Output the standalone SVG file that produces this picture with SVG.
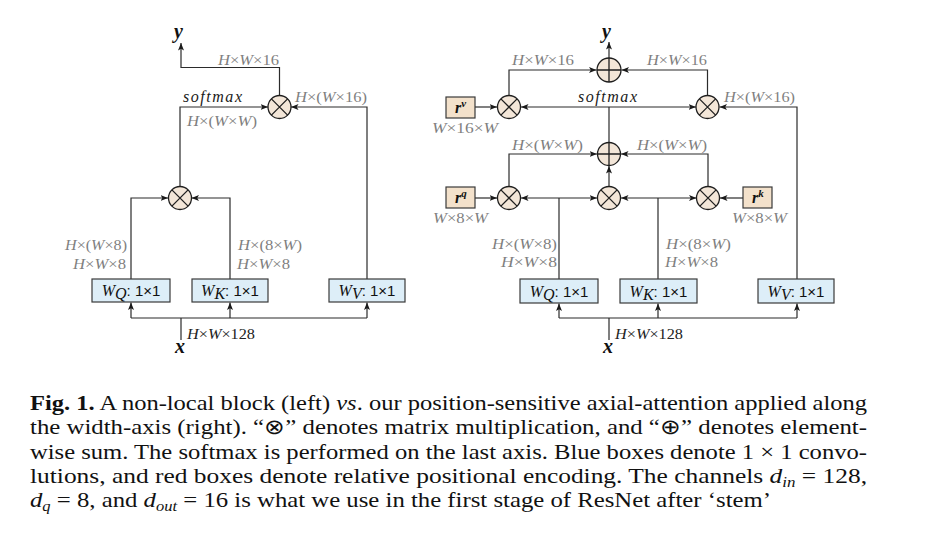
<svg xmlns="http://www.w3.org/2000/svg" width="932" height="545" viewBox="0 0 932 545">
<defs>
<marker id="ah" markerUnits="userSpaceOnUse" markerWidth="8" markerHeight="8" viewBox="0 0 8 8" refX="7.5" refY="4" orient="auto-start-reverse">
<path d="M0,1 L7.5,4 L0,7 L1.8,4 Z" fill="#1a1a1a"/>
</marker>
</defs>
<style>
.bg{fill:#ffffff}
.ln{fill:none;stroke:#2b2b2b;stroke-width:1.2}
.ar{marker-end:url(#ah)}
.ar2{marker-start:url(#ah);marker-end:url(#ah)}
.circ{fill:#f3e6d8;stroke:#1e1e1e;stroke-width:1.3}
.cross{stroke:#1e1e1e;stroke-width:1.3;fill:none}
.box{fill:#ddeef8;stroke:#3a3a3a;stroke-width:1.2}
.rbox{fill:#f3e1cb;stroke:#3a3a3a;stroke-width:1.2}
.g{font-family:'Liberation Serif',serif;font-size:14px;fill:#7f7f7f}
.d{font-family:'Liberation Serif',serif;font-size:14px;fill:#222}
.i{font-style:italic}
.sm{font-family:'Liberation Serif',serif;font-size:16px;font-style:italic;fill:#1a1a1a}
.xy{font-family:'Liberation Serif',serif;font-size:20px;font-style:italic;font-weight:bold;fill:#111}
.bl{font-family:'Liberation Sans',sans-serif;font-size:15px;fill:#111}
.bw{font-family:'Liberation Serif',serif;font-style:italic;font-size:16px}
.rl{font-family:'Liberation Serif',serif;font-style:italic;font-weight:bold;font-size:16px;fill:#111}
.cap{font-family:'Liberation Serif',serif;font-size:21px;fill:#111}
</style>
<rect class="bg" x="0" y="0" width="932" height="545"/>

<!-- connectors -->
<g id="connectors">
<!-- left diagram -->
<path class="ln ar" d="M279.5,95.5 V67.5 H181 V43"/>
<path class="ln ar" d="M180,186.5 V107 H268"/>
<path class="ln ar" d="M367,279 V107 H291"/>
<path class="ln ar" d="M131,279 V198 H168"/>
<path class="ln ar" d="M230,279 V198 H191.5"/>
<path class="ln" d="M181,340 V318 M131,318 H367"/>
<path class="ln ar" d="M131,318 V302.5"/>
<path class="ln ar" d="M230,318 V302.5"/>
<path class="ln ar" d="M367,318 V302.5"/>
<!-- right diagram -->
<path class="ln ar" d="M609,58 V42"/>
<path class="ln ar" d="M509,95.5 V70 H596.5"/>
<path class="ln ar" d="M707.5,95.5 V70 H621.5"/>
<path class="ln ar" d="M475,107 H497"/>
<path class="ln" d="M609,142.5 V107"/>
<path class="ln ar2" d="M521,107 H696"/>
<path class="ln ar" d="M797,279 V107 H719.5"/>
<path class="ln ar" d="M509,186.5 V154 H597"/>
<path class="ln ar" d="M708,186.5 V154 H621"/>
<path class="ln ar" d="M609,186.5 V166"/>
<path class="ln ar" d="M475,198 H497"/>
<path class="ln ar" d="M743,198 H720"/>
<path class="ln ar2" d="M521,198 H597"/>
<path class="ln" d="M559,198 V279"/>
<path class="ln ar2" d="M621,198 H696.5"/>
<path class="ln" d="M658,198 V279"/>
<path class="ln" d="M609,340 V318 M559,318 H797"/>
<path class="ln ar" d="M559,318 V303.5"/>
<path class="ln ar" d="M658,318 V303.5"/>
<path class="ln ar" d="M797,318 V303.5"/>
</g>

<!-- ===== LEFT: non-local block ===== -->
<g id="L_mul_top">
<circle class="circ" cx="279.5" cy="107" r="11.5"/>
<path class="cross" d="M271.4,98.9 L287.6,115.1 M287.6,98.9 L271.4,115.1"/>
</g>
<g id="L_mul_bot">
<circle class="circ" cx="180" cy="198" r="11.5"/>
<path class="cross" d="M171.9,189.9 L188.1,206.1 M188.1,189.9 L171.9,206.1"/>
</g>
<g id="L_WQ">
<rect class="box" x="92" y="279" width="78" height="23"/>
<text class="bl" x="131" y="296" text-anchor="middle"><tspan class="bw">W</tspan><tspan class="bw" font-size="11" dy="3">Q</tspan><tspan dy="-3">: 1×1</tspan></text>
</g>
<g id="L_WK">
<rect class="box" x="192" y="279" width="76" height="23"/>
<text class="bl" x="230" y="296" text-anchor="middle"><tspan class="bw">W</tspan><tspan class="bw" font-size="11" dy="3">K</tspan><tspan dy="-3">: 1×1</tspan></text>
</g>
<g id="L_WV">
<rect class="box" x="329" y="279" width="76" height="23"/>
<text class="bl" x="367" y="296" text-anchor="middle"><tspan class="bw">W</tspan><tspan class="bw" font-size="11" dy="3">V</tspan><tspan dy="-3">: 1×1</tspan></text>
</g>
<g id="L_labels">
<text class="xy" x="174" y="38">y</text>
<text class="xy" x="175" y="353">x</text>
<text class="g" x="218" y="65" textLength="61" lengthAdjust="spacingAndGlyphs"><tspan class="i">H</tspan>×<tspan class="i">W</tspan>×16</text>
<text class="sm" x="183" y="102" textLength="59" lengthAdjust="spacing">softmax</text>
<text class="g" x="187" y="126" textLength="70" lengthAdjust="spacingAndGlyphs"><tspan class="i">H</tspan>×(<tspan class="i">W</tspan>×<tspan class="i">W</tspan>)</text>
<text class="g" x="295" y="102" textLength="72" lengthAdjust="spacingAndGlyphs"><tspan class="i">H</tspan>×(<tspan class="i">W</tspan>×16)</text>
<text class="g" x="65" y="250" textLength="62" lengthAdjust="spacingAndGlyphs"><tspan class="i">H</tspan>×(<tspan class="i">W</tspan>×8)</text>
<text class="g" x="73" y="269" textLength="53" lengthAdjust="spacingAndGlyphs"><tspan class="i">H</tspan>×<tspan class="i">W</tspan>×8</text>
<text class="g" x="238" y="250" textLength="64" lengthAdjust="spacingAndGlyphs"><tspan class="i">H</tspan>×(8×<tspan class="i">W</tspan>)</text>
<text class="g" x="237" y="269" textLength="53" lengthAdjust="spacingAndGlyphs"><tspan class="i">H</tspan>×<tspan class="i">W</tspan>×8</text>
<text class="d" x="187" y="339" textLength="68" lengthAdjust="spacingAndGlyphs"><tspan class="i">H</tspan>×<tspan class="i">W</tspan>×128</text>
</g>

<!-- ===== RIGHT: axial attention ===== -->
<g id="R_add_top">
<circle class="circ" cx="609" cy="70" r="12"/>
<path class="cross" d="M597,70 H621 M609,58 V82"/>
</g>
<g id="R_mul_v_left">
<circle class="circ" cx="509" cy="107" r="11.5"/>
<path class="cross" d="M500.9,98.9 L517.1,115.1 M517.1,98.9 L500.9,115.1"/>
</g>
<g id="R_mul_v_right">
<circle class="circ" cx="707.5" cy="107" r="11.5"/>
<path class="cross" d="M699.4,98.9 L715.6,115.1 M715.6,98.9 L699.4,115.1"/>
</g>
<g id="R_add_mid">
<circle class="circ" cx="609" cy="154" r="11.5"/>
<path class="cross" d="M597.5,154 H620.5 M609,142.5 V165.5"/>
</g>
<g id="R_mul_q">
<circle class="circ" cx="509" cy="198" r="11.5"/>
<path class="cross" d="M500.9,189.9 L517.1,206.1 M517.1,189.9 L500.9,206.1"/>
</g>
<g id="R_mul_mid">
<circle class="circ" cx="609" cy="198" r="11.5"/>
<path class="cross" d="M600.9,189.9 L617.1,206.1 M617.1,189.9 L600.9,206.1"/>
</g>
<g id="R_mul_k">
<circle class="circ" cx="708" cy="198" r="11.5"/>
<path class="cross" d="M699.9,189.9 L716.1,206.1 M716.1,189.9 L699.9,206.1"/>
</g>
<g id="R_rv">
<rect class="rbox" x="446" y="97" width="29" height="21"/>
<text class="rl" x="455" y="113">r<tspan font-size="11" dy="-6">v</tspan></text>
</g>
<g id="R_rq">
<rect class="rbox" x="446" y="187" width="29" height="21"/>
<text class="rl" x="455" y="203">r<tspan font-size="11" dy="-6">q</tspan></text>
</g>
<g id="R_rk">
<rect class="rbox" x="743" y="187" width="29" height="21"/>
<text class="rl" x="752" y="203">r<tspan font-size="11" dy="-6">k</tspan></text>
</g>
<g id="R_WQ">
<rect class="box" x="520" y="279" width="78" height="24"/>
<text class="bl" x="559" y="296.5" text-anchor="middle"><tspan class="bw">W</tspan><tspan class="bw" font-size="11" dy="3">Q</tspan><tspan dy="-3">: 1×1</tspan></text>
</g>
<g id="R_WK">
<rect class="box" x="620" y="279" width="77" height="24"/>
<text class="bl" x="658.5" y="296.5" text-anchor="middle"><tspan class="bw">W</tspan><tspan class="bw" font-size="11" dy="3">K</tspan><tspan dy="-3">: 1×1</tspan></text>
</g>
<g id="R_WV">
<rect class="box" x="758" y="279" width="76" height="24"/>
<text class="bl" x="796" y="296.5" text-anchor="middle"><tspan class="bw">W</tspan><tspan class="bw" font-size="11" dy="3">V</tspan><tspan dy="-3">: 1×1</tspan></text>
</g>
<g id="R_labels">
<text class="xy" x="602" y="38">y</text>
<text class="xy" x="603" y="353">x</text>
<text class="g" x="512" y="65" textLength="62" lengthAdjust="spacingAndGlyphs"><tspan class="i">H</tspan>×<tspan class="i">W</tspan>×16</text>
<text class="g" x="647" y="65" textLength="60" lengthAdjust="spacingAndGlyphs"><tspan class="i">H</tspan>×<tspan class="i">W</tspan>×16</text>
<text class="sm" x="578" y="102" textLength="59" lengthAdjust="spacing">softmax</text>
<text class="g" x="724" y="102" textLength="71" lengthAdjust="spacingAndGlyphs"><tspan class="i">H</tspan>×(<tspan class="i">W</tspan>×16)</text>
<text class="g" x="432" y="133" textLength="66" lengthAdjust="spacingAndGlyphs"><tspan class="i">W</tspan>×16×<tspan class="i">W</tspan></text>
<text class="g" x="512" y="150" textLength="71" lengthAdjust="spacingAndGlyphs"><tspan class="i">H</tspan>×(<tspan class="i">W</tspan>×<tspan class="i">W</tspan>)</text>
<text class="g" x="637" y="150" textLength="70" lengthAdjust="spacingAndGlyphs"><tspan class="i">H</tspan>×(<tspan class="i">W</tspan>×<tspan class="i">W</tspan>)</text>
<text class="g" x="433" y="223" textLength="55" lengthAdjust="spacingAndGlyphs"><tspan class="i">W</tspan>×8×<tspan class="i">W</tspan></text>
<text class="g" x="732" y="223" textLength="55" lengthAdjust="spacingAndGlyphs"><tspan class="i">W</tspan>×8×<tspan class="i">W</tspan></text>
<text class="g" x="492" y="249" textLength="65" lengthAdjust="spacingAndGlyphs"><tspan class="i">H</tspan>×(<tspan class="i">W</tspan>×8)</text>
<text class="g" x="501" y="267" textLength="56" lengthAdjust="spacingAndGlyphs"><tspan class="i">H</tspan>×<tspan class="i">W</tspan>×8</text>
<text class="g" x="666" y="249" textLength="65" lengthAdjust="spacingAndGlyphs"><tspan class="i">H</tspan>×(8×<tspan class="i">W</tspan>)</text>
<text class="g" x="665" y="267" textLength="53" lengthAdjust="spacingAndGlyphs"><tspan class="i">H</tspan>×<tspan class="i">W</tspan>×8</text>
<text class="d" x="615" y="339" textLength="68" lengthAdjust="spacingAndGlyphs"><tspan class="i">H</tspan>×<tspan class="i">W</tspan>×128</text>
</g>

<!-- caption -->
<g id="caption">
<text class="cap" x="30" y="410" textLength="837" lengthAdjust="spacingAndGlyphs"><tspan font-weight="bold">Fig. 1.</tspan> A non-local block (left) <tspan font-style="italic">vs</tspan>. our position-sensitive axial-attention applied along</text>
<text class="cap" x="30" y="434.3" textLength="837" lengthAdjust="spacingAndGlyphs">the width-axis (right). “⊗” denotes matrix multiplication, and “⊕” denotes element-</text>
<text class="cap" x="30" y="458.6" textLength="837" lengthAdjust="spacingAndGlyphs">wise sum. The softmax is performed on the last axis. Blue boxes denote 1 × 1 convo-</text>
<text class="cap" x="30" y="482.9" textLength="837" lengthAdjust="spacingAndGlyphs">lutions, and red boxes denote relative positional encoding. The channels <tspan font-style="italic">d</tspan><tspan font-style="italic" font-size="14" dy="4">in</tspan><tspan dy="-4"> = 128,</tspan></text>
<text class="cap" x="30" y="507.2" textLength="741" lengthAdjust="spacingAndGlyphs"><tspan font-style="italic">d</tspan><tspan font-style="italic" font-size="14" dy="4">q</tspan><tspan dy="-4"> = 8, and </tspan><tspan font-style="italic">d</tspan><tspan font-style="italic" font-size="14" dy="4">out</tspan><tspan dy="-4"> = 16 is what we use in the first stage of ResNet after ‘stem’</tspan></text>
</g>
</svg>
